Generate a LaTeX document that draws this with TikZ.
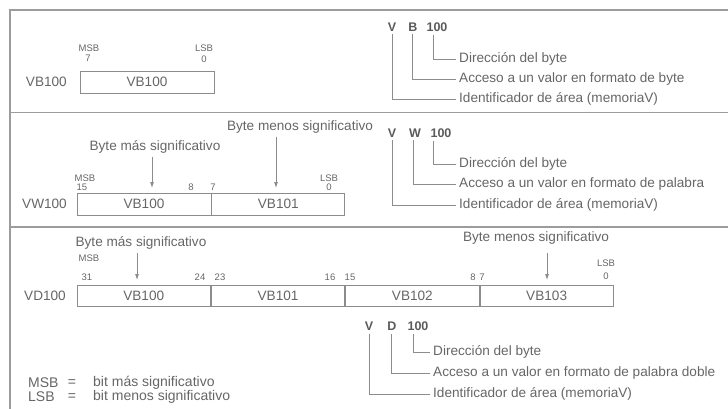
\documentclass[tikz,border=0pt]{standalone}
\usepackage{fontspec}
\setmainfont{Liberation Sans}
\usetikzlibrary{arrows.meta}
\definecolor{txt}{HTML}{666666}
\definecolor{hdrc}{HTML}{5A5A5A}
\definecolor{ln}{HTML}{8C8C8C}
\definecolor{fr}{HTML}{9C9C9C}
\begin{document}
\begin{tikzpicture}[x=1pt,y=-1pt,
  every node/.style={text=txt, inner sep=0pt},
  main/.style={font=\fontsize{13.6}{15}\selectfont},
  leg/.style={font=\fontsize{14}{16}\selectfont},
  small/.style={font=\fontsize{9.5}{10}\selectfont},
  hdr/.style={font=\bfseries\fontsize{12.5}{15}\selectfont, text=hdrc},
  cell/.style={draw=ln, line width=0.8pt, minimum height=22pt, inner sep=0pt, font=\fontsize{13.6}{15}\selectfont},
  lead/.style={draw=ln, line width=0.7pt},
  arr/.style={draw=ln, line width=0.8pt, -{Latex[length=6pt,width=4pt]}},
  frame/.style={draw=fr, line width=1.2pt}]
\useasboundingbox (0,0) rectangle (728,409);
% frame
\coordinate (f1) at (10,10); \coordinate (f2) at (728,10);
\coordinate (f3) at (10,409);
\coordinate (s1a) at (10,112.5); \coordinate (s1b) at (728,112.5);
\coordinate (s2a) at (10,227); \coordinate (s2b) at (728,227);
\draw[frame] (f3) -- (f1) -- (f2);
\draw[frame] (s1a) -- (s1b);
\draw[frame] (s2a) -- (s2b);

% ---------- panel 1 ----------
\node[main, anchor=east] (l1) at (67,82) {VB100};
\node[cell, minimum width=134pt] (c1) at (147,82) {VB100};
\node[small] (m1) at (89,48) {MSB};
\node[small] (m1n) at (88,58) {7};
\node[small] (s1) at (204,48) {LSB};
\node[small] (s1n) at (204,59) {0};

\node[hdr] (v1) at (392,27) {V};
\node[hdr] (b1) at (413,27) {B};
\node[hdr] (n1) at (437,27) {100};
\node[main, anchor=west] (d1) at (459,59) {Dirección del byte};
\node[main, anchor=west] (a1) at (459,79) {Acceso a un valor en formato de byte};
\node[main, anchor=west] (i1) at (459,99) {Identificador de área (memoriaV)};
\draw[lead] ([yshift=-3pt]v1.south) |- ([xshift=-3pt]i1.west);
\draw[lead] ([yshift=-3pt,xshift=-1pt]b1.south) |- ([xshift=-3pt]a1.west);
\draw[lead] ([yshift=-3pt,xshift=-4pt]n1.south) |- ([xshift=-3pt]d1.west);

% ---------- panel 2 ----------
\node[main, anchor=east] (l2) at (67,204) {VW100};
\node[cell, minimum width=134pt] (c2a) at (144,204) {VB100};
\node[cell, minimum width=133pt, anchor=west] (c2b) at (c2a.east) {VB101};
\node[small] (m2) at (85,178.5) {MSB};
\node[small] (m2n) at (82,187.5) {15};
\node[small] (m2e) at (191,187.5) {8};
\node[small] (m2f) at (213,187.5) {7};
\node[small] (s2) at (329,178.5) {LSB};
\node[small] (s2n) at (329,187.5) {0};
\node[main] (bm2) at (155,147) {Byte más significativo};
\node[main] (bl2) at (300,127) {Byte menos significativo};
\coordinate (t2a) at (152,188);
\coordinate (t2b) at (276,188);
\draw[arr] ([yshift=-3pt]bm2.south -| t2a) -- (t2a);
\draw[arr] ([yshift=-3pt]bl2.south -| t2b) -- (t2b);

\node[hdr] (v2) at (392,133) {V};
\node[hdr] (w2) at (415,133) {W};
\node[hdr] (n2) at (441,133) {100};
\node[main, anchor=west] (d2) at (459,164) {Dirección del byte};
\node[main, anchor=west] (a2) at (459,184) {Acceso a un valor en formato de palabra};
\node[main, anchor=west] (i2) at (459,205) {Identificador de área (memoriaV)};
\draw[lead] ([yshift=-3pt]v2.south) |- ([xshift=-3pt]i2.west);
\draw[lead] ([yshift=-3pt,xshift=-2pt]w2.south) |- ([xshift=-3pt]a2.west);
\draw[lead] ([yshift=-3pt,xshift=-8pt]n2.south) |- ([xshift=-3pt]d2.west);

% ---------- panel 3 ----------
\node[main, anchor=east] (l3) at (66,295.5) {VD100};
\node[cell, minimum width=133.5pt, minimum height=21pt] (c3a) at (143.75,295.5) {VB100};
\node[cell, minimum width=133.5pt, minimum height=21pt, anchor=west] (c3b) at (c3a.east) {VB101};
\node[cell, minimum width=133.5pt, minimum height=21pt, anchor=west] (c3c) at (c3b.east) {VB102};
\node[cell, minimum width=133.5pt, minimum height=21pt, anchor=west] (c3d) at (c3c.east) {VB103};
\node[small] (m3) at (89,258) {MSB};
\node[small] (m3n) at (87,277) {31};
\node[small] (n24) at (200,277) {24};
\node[small] (n23) at (220,277) {23};
\node[small] (n16) at (330,277) {16};
\node[small] (n15) at (350,277) {15};
\node[small] (n8) at (473,277) {8};
\node[small] (n7) at (482,277) {7};
\node[small] (s3) at (606,263) {LSB};
\node[small] (s3n) at (606,276) {0};
\node[main] (bm3) at (141,243) {Byte más significativo};
\node[main] (bl3) at (536,238) {Byte menos significativo};
\coordinate (t3a) at (137,280);
\coordinate (t3b) at (547,280);
\draw[arr] ([yshift=-3pt]bm3.south -| t3a) -- (t3a);
\draw[arr] ([yshift=-8pt]bl3.south -| t3b) -- (t3b);

\node[hdr] (v3) at (369,326) {V};
\node[hdr] (dd3) at (392,326) {D};
\node[hdr] (n3) at (418,326) {100};
\node[main, anchor=west] (d3) at (433,352) {Dirección del byte};
\node[main, anchor=west] (a3) at (433,373) {Acceso a un valor en formato de palabra doble};
\node[main, anchor=west] (i3) at (433,394) {Identificador de área (memoriaV)};
\draw[lead] ([yshift=-3pt]v3.south) |- ([xshift=-3pt]i3.west);
\draw[lead] ([yshift=-3pt,xshift=-1pt]dd3.south) |- ([xshift=-3pt]a3.west);
\draw[lead] ([yshift=-3pt,xshift=-5pt]n3.south) |- ([xshift=-3pt]d3.west);

% ---------- legend ----------
\node[leg, anchor=west] (lm) at (28,383) {MSB};
\node[leg] (lme) at (72,383) {=};
\node[leg, anchor=west] (lmt) at (93,383) {bit más significativo};
\node[leg, anchor=west] (ll) at (28,397) {LSB};
\node[leg] (lle) at (72,397) {=};
\node[leg, anchor=west] (llt) at (93,397) {bit menos significativo};
\end{tikzpicture}
\end{document}
